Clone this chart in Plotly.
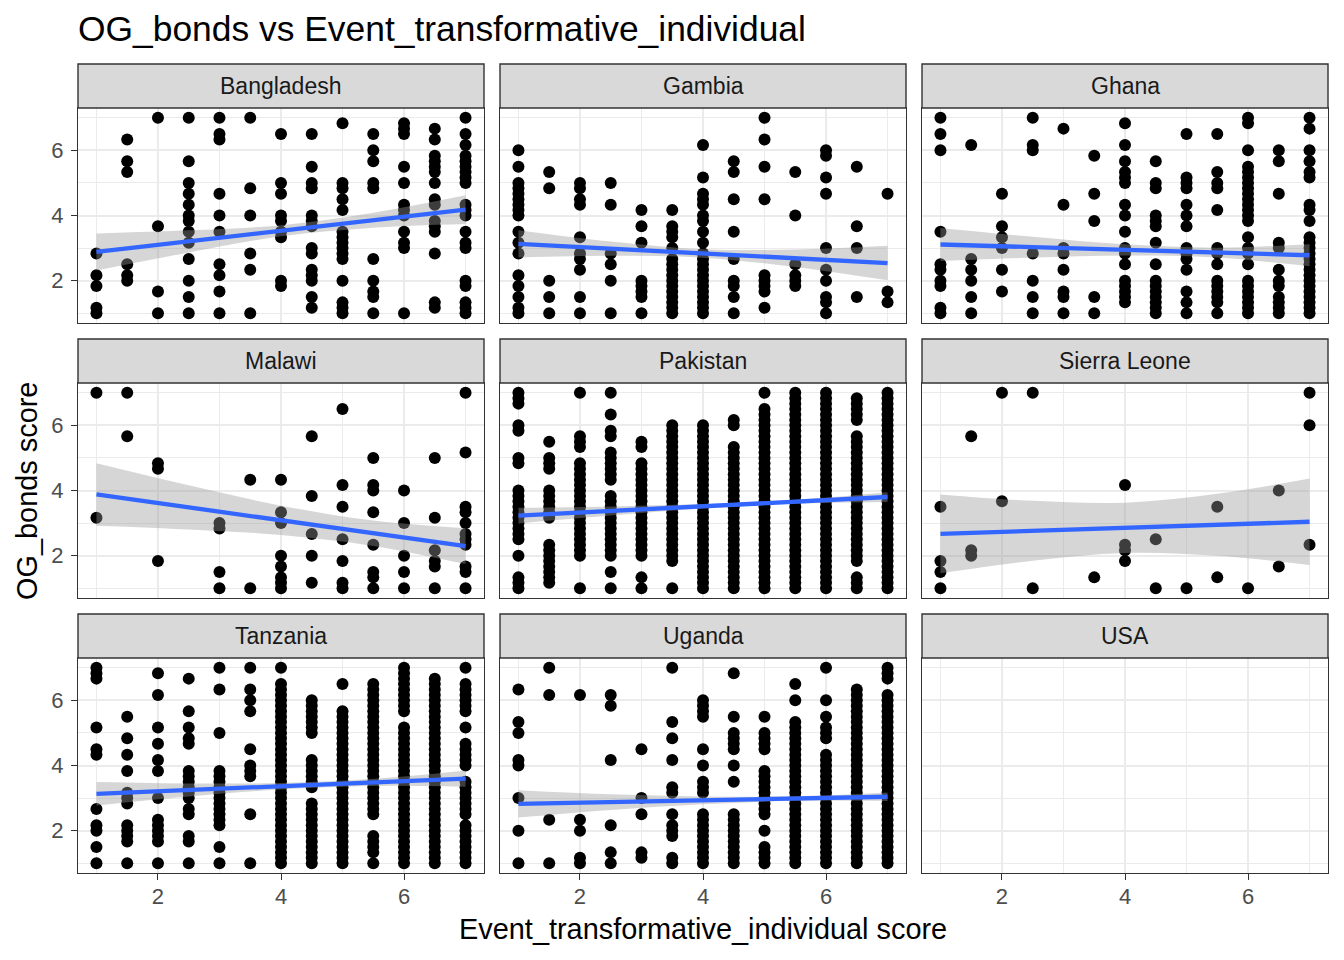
import plotly.graph_objects as go

W, H = 1344, 960

COUNTRIES = ["Bangladesh", "Gambia", "Ghana", "Malawi", "Pakistan",
             "Sierra Leone", "Tanzania", "Uganda", "USA"]
X_LEVELS = [1, 1.5, 2, 2.5, 3, 3.5, 4, 4.5, 5, 5.5, 6, 6.5, 7]
X_TICKS = [2, 4, 6]
Y_TICKS = [2, 4, 6]

# OG_bonds scores per x level, stored in sixths (value * 6)
bangladesh = [
    [17, 13, 11, 7, 6],
    [38, 34, 32, 15, 13, 12],
    [42, 22, 10, 6],
    [42, 34, 30, 28, 26, 24, 23, 21, 19, 16, 12, 9, 6],
    [42, 39, 38, 28, 24, 21, 15, 13, 10, 6],
    [42, 29, 24, 17, 14, 6],
    [39, 30, 28, 24, 23, 21, 20, 12, 11],
    [39, 33, 30, 29, 24, 23, 22, 18, 17, 14, 13, 12, 9, 7],
    [41, 30, 29, 27, 25, 21, 20, 19, 18, 17, 16, 12, 8, 7, 6],
    [39, 36, 34, 30, 29, 16, 12, 10, 9, 6],
    [41, 40, 39, 33, 30, 26, 25, 24, 21, 19, 18, 6],
    [40, 38, 35, 34, 33, 32, 30, 27, 26, 23, 22, 21, 17, 8, 7],
    [42, 39, 37, 35, 34, 33, 32, 31, 30, 26, 25, 24, 21, 19, 18, 12, 11, 8, 7, 6],
]
gambia = [
    [36, 33, 30, 29, 28, 27, 26, 25, 24, 21, 19, 17, 13, 11, 9, 7, 6],
    [32, 29, 12, 9, 6],
    [30, 29, 27, 26, 20, 17, 16, 14, 9, 6],
    [30, 26, 17, 15, 12, 6],
    [25, 22, 19, 12, 11, 10, 9, 6],
    [25, 22, 21, 20, 18, 16, 15, 14, 13, 12, 11, 10, 9, 8, 7, 6],
    [37, 31, 28, 27, 26, 24, 23, 21, 19, 17, 16, 15, 14, 13, 12, 11, 10, 9, 8, 7, 6],
    [34, 32, 27, 21, 16, 12, 11, 9, 6],
    [42, 38, 33, 27, 13, 12, 11, 10, 7],
    [32, 24, 15, 13, 12, 11],
    [36, 35, 31, 28, 18, 14, 12, 9, 8, 6],
    [33, 22, 18, 9],
    [28, 10, 8],
]
ghana = [
    [42, 39, 36, 21, 15, 14, 12, 11, 7, 6],
    [37, 16, 14, 12, 9, 6],
    [28, 22, 20, 18, 14, 10],
    [42, 37, 36, 17, 12, 9, 6],
    [40, 26, 18, 17, 14, 10, 9, 6],
    [35, 28, 23, 9, 6],
    [41, 37, 34, 32, 31, 30, 26, 24, 21, 18, 17, 15, 12, 11, 10, 9, 8],
    [34, 30, 29, 24, 23, 22, 19, 15, 12, 11, 10, 9, 8, 7, 6],
    [39, 31, 30, 29, 26, 24, 22, 18, 17, 16, 14, 10, 8, 6],
    [39, 32, 30, 29, 25, 18, 17, 15, 12, 11, 10, 9, 8, 6],
    [42, 41, 36, 33, 32, 31, 30, 29, 28, 27, 26, 25, 24, 23, 20, 18, 17, 15, 12, 11, 10, 9, 8, 7, 6],
    [36, 34, 28, 19, 18, 14, 12, 11, 9, 8, 7, 6],
    [42, 40, 36, 34, 32, 31, 26, 25, 23, 20, 19, 18, 17, 16, 15, 14, 13, 12, 11, 10, 9, 8, 7, 6],
]
malawi = [
    [42, 19],
    [42, 34],
    [29, 28, 11],
    [],
    [18, 17, 9, 6],
    [26, 6],
    [26, 20, 18, 12, 10, 8, 7, 6],
    [34, 23, 16, 12, 7],
    [39, 25, 21, 15, 11, 7, 6],
    [30, 25, 24, 20, 14, 9, 8, 6],
    [24, 18, 12, 9, 6],
    [30, 19, 13, 11, 10, 6],
    [42, 31, 21, 20, 18, 16, 15, 14, 10, 9, 6],
]
pakistan = [
    [42, 41, 40, 36, 35, 30, 29, 24, 23, 22, 21, 20, 19, 18, 17, 16, 15, 12, 8, 7, 6],
    [33, 30, 29, 28, 24, 23, 22, 21, 20, 19, 14, 13, 12, 11, 10, 9, 8, 7],
    [42, 34, 33, 32, 29, 28, 27, 26, 25, 24, 23, 22, 21, 20, 19, 18, 17, 16, 15, 14, 13, 12, 6],
    [42, 38, 35, 34, 31, 30, 29, 28, 27, 26, 23, 22, 21, 20, 19, 18, 17, 16, 15, 14, 13, 12, 9, 6],
    [33, 32, 29, 28, 27, 26, 25, 24, 23, 22, 21, 20, 19, 18, 17, 16, 15, 14, 13, 12, 8, 6],
    [36, 35, 34, 33, 32, 31, 30, 29, 28, 27, 26, 25, 24, 23, 22, 21, 20, 19, 18, 17, 16, 15, 14, 13, 12, 11, 6],
    [36, 35, 34, 33, 32, 31, 30, 29, 28, 27, 26, 25, 24, 23, 22, 21, 20, 19, 18, 17, 16, 15, 14, 13, 12, 11, 10, 9, 8, 7, 6],
    [37, 36, 32, 31, 30, 29, 28, 27, 26, 25, 24, 23, 22, 21, 20, 19, 18, 17, 16, 15, 14, 13, 12, 11, 10, 9, 8, 7, 6],
    [42, 39, 38, 37, 36, 35, 34, 33, 32, 31, 30, 29, 28, 27, 26, 25, 24, 23, 22, 21, 20, 19, 18, 17, 16, 15, 14, 13, 12, 11, 10, 9, 8, 7, 6],
    [42, 41, 40, 39, 38, 37, 36, 35, 34, 33, 32, 31, 30, 29, 28, 27, 26, 25, 24, 23, 22, 21, 20, 19, 18, 17, 16, 15, 14, 13, 12, 11, 10, 9, 8, 7, 6],
    [42, 41, 40, 39, 38, 37, 36, 35, 34, 33, 32, 31, 30, 29, 28, 27, 26, 25, 24, 23, 22, 21, 20, 19, 18, 17, 16, 15, 14, 13, 12, 11, 10, 9, 8, 7, 6],
    [41, 40, 39, 38, 37, 34, 33, 32, 31, 30, 29, 28, 27, 26, 25, 24, 23, 22, 21, 20, 19, 18, 17, 16, 15, 14, 13, 12, 11, 8, 7, 6],
    [42, 41, 40, 39, 38, 37, 36, 35, 34, 33, 32, 31, 30, 29, 28, 27, 26, 25, 24, 23, 22, 21, 20, 19, 18, 17, 16, 15, 14, 13, 12, 11, 10, 9, 8, 7, 6],
]
sierra_leone = [
    [21, 11, 9, 6],
    [34, 13, 12],
    [42, 22],
    [42, 6],
    [],
    [8],
    [25, 14, 13, 11],
    [15, 6],
    [6],
    [21, 8],
    [6],
    [24, 10],
    [42, 36, 14],
]
tanzania = [
    [42, 41, 40, 31, 27, 26, 16, 13, 12, 9, 6],
    [33, 29, 26, 23, 19, 18, 17, 13, 12, 11, 10, 6],
    [41, 37, 31, 28, 25, 23, 18, 14, 13, 12, 11, 10, 6],
    [40, 34, 31, 29, 28, 23, 22, 21, 20, 19, 18, 16, 15, 11, 10, 6],
    [42, 38, 30, 23, 22, 21, 20, 19, 18, 17, 16, 15, 14, 13, 9, 6],
    [42, 38, 36, 34, 27, 24, 23, 22, 15, 6],
    [42, 39, 38, 37, 36, 35, 34, 33, 32, 31, 30, 29, 28, 27, 26, 25, 24, 23, 22, 21, 20, 19, 18, 17, 16, 15, 14, 13, 12, 11, 10, 9, 8, 7, 6],
    [36, 35, 34, 33, 32, 31, 30, 25, 24, 23, 22, 21, 20, 17, 16, 15, 14, 13, 12, 11, 10, 9, 8, 7, 6],
    [39, 34, 33, 32, 31, 30, 29, 28, 27, 26, 25, 24, 23, 22, 21, 20, 19, 18, 17, 16, 15, 14, 13, 12, 11, 10, 9, 8, 7, 6],
    [39, 38, 37, 36, 35, 34, 33, 32, 31, 30, 29, 28, 27, 26, 25, 24, 23, 22, 21, 20, 19, 18, 17, 16, 15, 11, 10, 9, 8, 6],
    [42, 41, 40, 39, 38, 37, 36, 35, 34, 31, 30, 29, 28, 27, 26, 25, 24, 23, 22, 21, 20, 19, 18, 17, 16, 15, 14, 13, 12, 11, 10, 9, 8, 7, 6],
    [40, 39, 38, 37, 36, 35, 34, 33, 32, 31, 30, 29, 28, 27, 26, 25, 24, 23, 22, 21, 20, 19, 18, 17, 16, 15, 14, 13, 12, 11, 10, 9, 8, 7, 6],
    [42, 39, 38, 37, 36, 35, 34, 31, 28, 27, 26, 25, 24, 21, 20, 19, 18, 17, 16, 15, 13, 12, 11, 10, 9, 8, 7, 6],
]
uganda = [
    [38, 32, 30, 25, 24, 18, 12, 6],
    [42, 37, 14, 6],
    [37, 14, 12, 7, 6],
    [37, 35, 25, 13, 8, 6],
    [27, 18, 15, 8, 7],
    [42, 32, 29, 25, 20, 19, 15, 13, 12, 11, 7, 6],
    [36, 35, 34, 33, 27, 24, 21, 20, 19, 15, 14, 13, 12, 11, 10, 9, 8, 7, 6],
    [41, 33, 30, 29, 28, 27, 24, 21, 15, 14, 13, 12, 11, 10, 9, 8, 7, 6],
    [33, 30, 29, 28, 27, 23, 22, 21, 20, 19, 18, 17, 16, 15, 12, 9, 8, 7, 6],
    [39, 36, 32, 31, 30, 29, 28, 27, 26, 25, 24, 23, 22, 21, 20, 19, 18, 17, 16, 15, 14, 13, 12, 11, 10, 9, 8, 7, 6],
    [42, 36, 33, 31, 30, 29, 26, 25, 24, 23, 22, 21, 20, 19, 18, 17, 16, 15, 14, 13, 12, 11, 10, 9, 8, 7, 6],
    [38, 37, 36, 35, 34, 33, 32, 31, 30, 29, 28, 27, 26, 25, 24, 23, 22, 21, 20, 19, 18, 17, 16, 15, 14, 13, 12, 11, 10, 9, 8, 7, 6],
    [42, 41, 40, 37, 36, 35, 34, 33, 32, 31, 30, 29, 28, 27, 26, 25, 24, 23, 22, 21, 20, 19, 18, 17, 16, 15, 14, 13, 12, 11, 10, 9, 8, 7, 6],
]
usa = [[] for _ in X_LEVELS]

# linear fit (value at x=1 and x=7) and confidence-band half widths
FIT_X = [1, 7]
FIT_START = [2.88, 3.13, 3.11, 3.88, 3.23, 2.67, 3.13, 2.82, None]
FIT_END = [4.18, 2.54, 2.78, 2.29, 3.80, 3.04, 3.60, 3.04, None]
BAND_X = [1, 2.5, 4, 5.5, 7]
band_bangladesh = [0.57, 0.34, 0.17, 0.23, 0.44]
band_gambia = [0.42, 0.22, 0.13, 0.27, 0.53]
band_ghana = [0.51, 0.32, 0.17, 0.15, 0.34]
band_malawi = [0.96, 0.68, 0.45, 0.39, 0.55]
band_pakistan = [0.24, 0.14, 0.07, 0.06, 0.15]
band_sierra_leone = [1.21, 0.92, 0.77, 0.95, 1.33]
band_tanzania = [0.36, 0.20, 0.10, 0.11, 0.25]
band_uganda = [0.42, 0.24, 0.12, 0.07, 0.13]

POINTS = [bangladesh, gambia, ghana, malawi, pakistan, sierra_leone, tanzania, uganda, usa]
BANDS = [band_bangladesh, band_gambia, band_ghana, band_malawi, band_pakistan,
         band_sierra_leone, band_tanzania, band_uganda, None]

FONT = "Liberation Sans, Arial, sans-serif"
COL_L = [78, 500, 922]
COL_R = [484, 906, 1328]
ROW_T = [108, 383, 658]
ROW_B = [323, 598, 873]
STRIP_H = 44


def fx(px):
    return px / W


def fy(px):
    return 1 - px / H


fig = go.Figure()
layout = dict(
    width=W, height=H, autosize=False,
    margin=dict(l=0, r=0, t=0, b=0),
    paper_bgcolor="white", plot_bgcolor="white",
    showlegend=False, font=dict(family=FONT),
)
shapes = []
annotations = []

for k, name in enumerate(COUNTRIES):
    r, c = divmod(k, 3)
    xn = "x" if k == 0 else f"x{k + 1}"
    yn = "y" if k == 0 else f"y{k + 1}"
    xkey = "xaxis" if k == 0 else f"xaxis{k + 1}"
    ykey = "yaxis" if k == 0 else f"yaxis{k + 1}"
    common = dict(
        range=[0.7, 7.3], showgrid=True, gridcolor="#EBEBEB", gridwidth=1.7,
        minor=dict(tickvals=[1, 3, 5, 7], showgrid=True, gridcolor="#EBEBEB", gridwidth=0.9),
        zeroline=False, showline=True, mirror=True, linecolor="#333333", linewidth=1.4,
        ticklen=6, tickwidth=1.4, tickcolor="#333333",
        tickfont=dict(size=22, color="#4D4D4D", family=FONT), fixedrange=True,
    )
    layout[xkey] = dict(common, domain=[fx(COL_L[c]), fx(COL_R[c])], anchor=yn,
                        tickvals=X_TICKS, ticks="outside" if r == 2 else "",
                        showticklabels=(r == 2), ticklabelstandoff=-3)
    layout[ykey] = dict(common, domain=[fy(ROW_B[r]), fy(ROW_T[r])], anchor=xn,
                        tickvals=Y_TICKS, ticks="outside" if c == 0 else "",
                        showticklabels=(c == 0), ticklabelstandoff=3)

    # points
    xs, ys = [], []
    for xv, col in zip(X_LEVELS, POINTS[k]):
        for s in col:
            xs.append(xv)
            ys.append(s / 6)
    fig.add_trace(go.Scatter(x=xs, y=ys, xaxis=xn, yaxis=yn, mode="markers",
                             marker=dict(size=12, color="black"), hoverinfo="skip"))

    # smooth: ribbon + line
    if FIT_START[k] is not None:
        y0, y1 = FIT_START[k], FIT_END[k]
        slope = (y1 - y0) / (FIT_X[1] - FIT_X[0])
        centre = [y0 + slope * (bx - FIT_X[0]) for bx in BAND_X]
        lo = [cv - h for cv, h in zip(centre, BANDS[k])]
        hi = [cv + h for cv, h in zip(centre, BANDS[k])]
        fig.add_trace(go.Scatter(x=BAND_X, y=lo, xaxis=xn, yaxis=yn, mode="lines",
                                 line=dict(width=0, shape="spline"), hoverinfo="skip"))
        fig.add_trace(go.Scatter(x=BAND_X, y=hi, xaxis=xn, yaxis=yn, mode="lines",
                                 line=dict(width=0, shape="spline"), fill="tonexty",
                                 fillcolor="rgba(153,153,153,0.4)", hoverinfo="skip"))
        fig.add_trace(go.Scatter(x=FIT_X, y=[y0, y1], xaxis=xn, yaxis=yn, mode="lines",
                                 line=dict(color="#3366FF", width=4.3), hoverinfo="skip"))

    # strip
    shapes.append(dict(type="rect", xref="paper", yref="paper",
                       x0=fx(COL_L[c]), x1=fx(COL_R[c]),
                       y0=fy(ROW_T[r]), y1=fy(ROW_T[r] - STRIP_H),
                       fillcolor="#D9D9D9", line=dict(color="#333333", width=1.4)))
    annotations.append(dict(text=name, xref="paper", yref="paper",
                            x=fx((COL_L[c] + COL_R[c]) / 2),
                            y=fy(ROW_T[r] - STRIP_H / 2),
                            xanchor="center", yanchor="middle", showarrow=False,
                            font=dict(size=23, color="#1A1A1A", family=FONT)))

annotations.append(dict(text="OG_bonds vs Event_transformative_individual",
                        xref="paper", yref="paper", x=fx(76), y=fy(29),
                        xanchor="left", yanchor="middle", showarrow=False,
                        font=dict(size=35.4, color="black", family=FONT)))
annotations.append(dict(text="Event_transformative_individual score",
                        xref="paper", yref="paper", x=fx(703), y=fy(929),
                        xanchor="center", yanchor="middle", showarrow=False,
                        font=dict(size=28.9, color="black", family=FONT)))
annotations.append(dict(text="OG_bonds score", textangle=-90,
                        xref="paper", yref="paper", x=fx(27), y=fy(491),
                        xanchor="center", yanchor="middle", showarrow=False,
                        font=dict(size=28.9, color="black", family=FONT)))

layout["shapes"] = shapes
layout["annotations"] = annotations
fig.update_layout(**layout)
fig.write_html(
    "out.html",
    config={"displayModeBar": False},
    post_script="document.body.style.margin='0px';document.body.style.padding='0px';"
                "document.body.style.overflow='hidden';",
)
